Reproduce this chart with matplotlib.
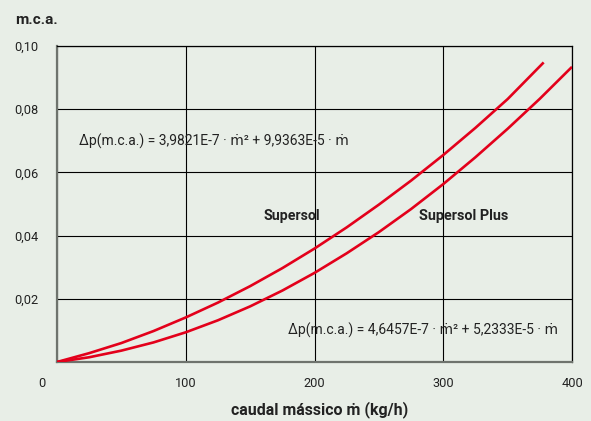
import numpy as np
import matplotlib
matplotlib.use("Agg")
import matplotlib.pyplot as plt
import matplotlib.transforms as mtransforms

plt.rcParams['font.family'] = ['Roboto', 'DejaVu Sans']

# values
flow_supersol = [0, 25, 50, 75, 100, 125, 150, 175, 200, 225, 250, 275, 300, 325, 350, 378]
dp_supersol = [0, 0.0028, 0.0060, 0.0098, 0.0141, 0.0188, 0.0240, 0.0297, 0.0359,
               0.0426, 0.0498, 0.0574, 0.0655, 0.0741, 0.0832, 0.0948]
flow_plus = [0, 25, 50, 75, 100, 125, 150, 175, 200, 225, 250, 275, 300, 325, 350, 375, 400]
dp_plus = [0, 0.0015, 0.0036, 0.0062, 0.0094, 0.0132, 0.0176, 0.0226, 0.0282,
           0.0344, 0.0411, 0.0484, 0.0563, 0.0648, 0.0738, 0.0833, 0.0934]

x_ticks = [0, 100, 200, 300, 400]
y_ticks = [0.02, 0.04, 0.06, 0.08, 0.10]
y_labels = ["0,02", "0,04", "0,06", "0,08", "0,10"]

eq_supersol = "\u0394p(m.c.a.) = 3,9821E-7 \u00b7 \u1e41\u00b2 + 9,9363E-5 \u00b7 \u1e41"
eq_plus = "\u0394p(m.c.a.) = 4,6457E-7 \u00b7 \u1e41\u00b2 + 5,2333E-5 \u00b7 \u1e41"

bg = '#e8eee7'
red = '#e3001b'
txt = '#222222'

fig = plt.figure(figsize=(5.91, 4.21), dpi=100, facecolor=bg)
ax = fig.add_axes([57/591, 1 - 362/421, (572 - 57)/591, (362 - 46)/421])
ax.set_facecolor(bg)

ax.plot(flow_supersol, dp_supersol, color=red, lw=1.9, solid_capstyle='butt',
        solid_joinstyle='round', zorder=3)
ax.plot(flow_plus, dp_plus, color=red, lw=1.9, solid_capstyle='butt',
        solid_joinstyle='round', zorder=3)

ax.set_xlim(0, 400)
ax.set_ylim(0, 0.10)
ax.set_xticks(x_ticks)
ax.set_yticks(y_ticks)
ax.set_yticklabels(y_labels)
ax.tick_params(length=0, labelsize=9.2, labelcolor=txt)
ax.tick_params(axis='y', pad=13.5)
ax.tick_params(axis='x', pad=11)
ax.grid(True, color='black', lw=0.8)

# shift the "0" label left like the original
lab0 = ax.get_xticklabels()[0]
lab0.set_transform(lab0.get_transform() + mtransforms.ScaledTranslation(-15/100, 0, fig.dpi_scale_trans))

for side in ['left', 'bottom']:
    ax.spines[side].set_color('#6e736d')
    ax.spines[side].set_linewidth(1.6)
for side in ['top', 'right']:
    ax.spines[side].set_color('black')
    ax.spines[side].set_linewidth(0.9)

ax.text(17, 0.0697, eq_supersol, fontsize=10, color=txt, va='center', ha='left')
ax.text(400 - 11, 0.0100, eq_plus, fontsize=10, color=txt, va='center', ha='right')
ax.text(204, 0.0463, "Supersol", fontsize=10.2, fontweight='bold', color=txt, ha='right', va='center')
ax.text(281, 0.0463, "Supersol Plus", fontsize=10.4, fontweight='bold', color=txt, ha='left', va='center')

fig.text(15/591, 1 - 20/421, "m.c.a.", fontsize=11, fontweight='bold', color=txt, ha='left', va='center')
fig.text(320/591, 1 - 410/421, "caudal m\u00e1ssico \u1e41 (kg/h)", fontsize=11.5, fontweight='bold',
         color=txt, ha='center', va='center')

fig.savefig("out.png", dpi=100, facecolor=bg)
